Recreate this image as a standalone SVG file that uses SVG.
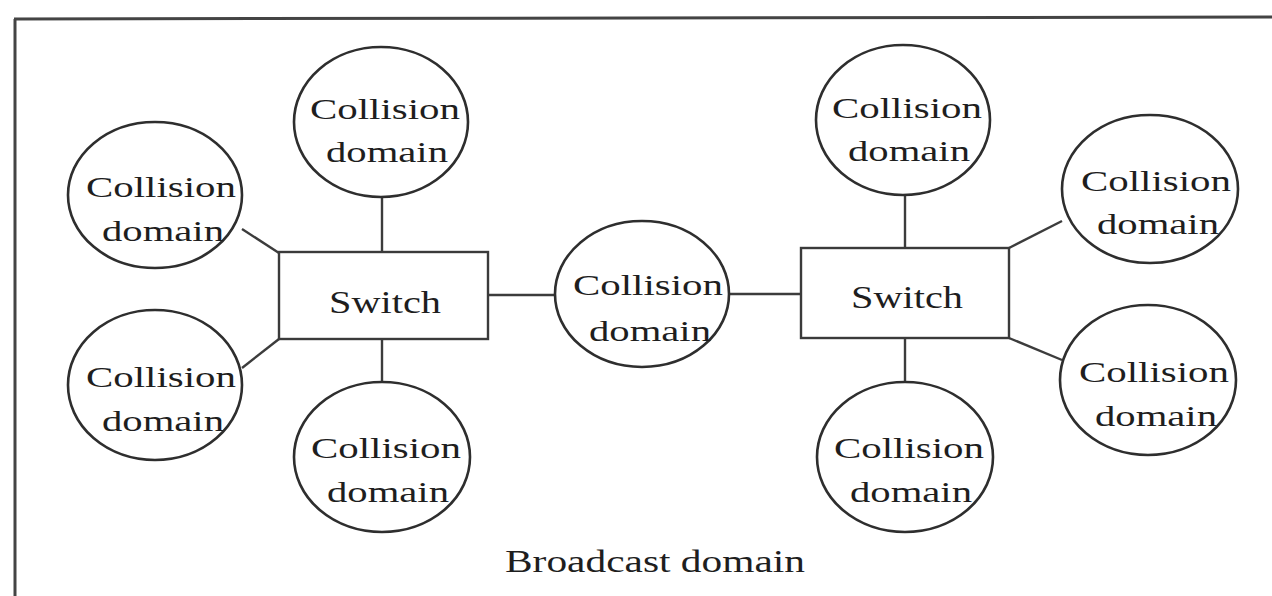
<svg xmlns="http://www.w3.org/2000/svg" width="1272" height="596" viewBox="0 0 1272 596">
  <style>
    .frame { stroke: #444; stroke-width: 3; fill: none; }
    .cd ellipse { fill: #fff; stroke: #2e2e2e; stroke-width: 2.6; }
    .sw rect { fill: #fff; stroke: #3a3a3a; stroke-width: 2.4; }
    .lbl { font-family: "Liberation Serif", "Times New Roman", serif; fill: #1e1e1e; text-anchor: middle; }
    .cdt { font-size: 29px; }
    .swt { font-size: 32px; }
    #links line { stroke: #3c3c3c; stroke-width: 2.4; }
  </style>

  <rect width="1272" height="596" fill="#fff"/>

  <!-- broadcast domain boundary -->
  <g id="boundary">
    <line class="frame" x1="14" y1="19" x2="1272" y2="17" stroke="#777"/>
    <line class="frame" x1="15" y1="19" x2="15" y2="596"/>
  </g>

  <!-- connectors -->
  <g id="links">
    <line x1="242" y1="229" x2="279" y2="253"/>
    <line x1="242" y1="368" x2="279" y2="339"/>
    <line x1="382" y1="197" x2="382" y2="252"/>
    <line x1="382" y1="339" x2="382" y2="383"/>
    <line x1="488" y1="295" x2="556" y2="295"/>
    <line x1="729" y1="294" x2="801" y2="294"/>
    <line x1="905" y1="195" x2="905" y2="248"/>
    <line x1="905" y1="338" x2="905" y2="382"/>
    <line x1="1009" y1="248" x2="1062" y2="221"/>
    <line x1="1009" y1="338" x2="1062" y2="360"/>
  </g>

  <!-- switches -->
  <g id="switch-left" class="sw">
    <rect x="279" y="252" width="209" height="87"/>
    <text class="lbl swt" x="385" y="313" textLength="112" lengthAdjust="spacingAndGlyphs">Switch</text>
  </g>
  <g id="switch-right" class="sw">
    <rect x="801" y="248" width="208" height="90"/>
    <text class="lbl swt" x="907" y="308" textLength="112" lengthAdjust="spacingAndGlyphs">Switch</text>
  </g>

  <!-- collision domains -->
  <g id="cd-left-top" class="cd">
    <ellipse cx="155" cy="195" rx="87" ry="73"/>
    <text class="lbl cdt" x="161" y="197" textLength="150" lengthAdjust="spacingAndGlyphs">Collision</text>
    <text class="lbl cdt" x="163" y="241" textLength="122" lengthAdjust="spacingAndGlyphs">domain</text>
  </g>
  <g id="cd-left-bottom" class="cd">
    <ellipse cx="155" cy="385" rx="87" ry="75"/>
    <text class="lbl cdt" x="161" y="387" textLength="150" lengthAdjust="spacingAndGlyphs">Collision</text>
    <text class="lbl cdt" x="163" y="431" textLength="122" lengthAdjust="spacingAndGlyphs">domain</text>
  </g>
  <g id="cd-top-left" class="cd">
    <ellipse cx="381" cy="122" rx="87" ry="75"/>
    <text class="lbl cdt" x="385" y="119" textLength="150" lengthAdjust="spacingAndGlyphs">Collision</text>
    <text class="lbl cdt" x="387" y="162" textLength="122" lengthAdjust="spacingAndGlyphs">domain</text>
  </g>
  <g id="cd-bottom-left" class="cd">
    <ellipse cx="382" cy="457" rx="88" ry="75"/>
    <text class="lbl cdt" x="386" y="458" textLength="150" lengthAdjust="spacingAndGlyphs">Collision</text>
    <text class="lbl cdt" x="388" y="502" textLength="122" lengthAdjust="spacingAndGlyphs">domain</text>
  </g>
  <g id="cd-center" class="cd">
    <ellipse cx="642" cy="294" rx="87" ry="73"/>
    <text class="lbl cdt" x="648" y="295" textLength="150" lengthAdjust="spacingAndGlyphs">Collision</text>
    <text class="lbl cdt" x="650" y="341" textLength="122" lengthAdjust="spacingAndGlyphs">domain</text>
  </g>
  <g id="cd-top-right" class="cd">
    <ellipse cx="903" cy="120" rx="87" ry="75"/>
    <text class="lbl cdt" x="907" y="118" textLength="150" lengthAdjust="spacingAndGlyphs">Collision</text>
    <text class="lbl cdt" x="909" y="161" textLength="122" lengthAdjust="spacingAndGlyphs">domain</text>
  </g>
  <g id="cd-bottom-right" class="cd">
    <ellipse cx="905" cy="457" rx="88" ry="75"/>
    <text class="lbl cdt" x="909" y="458" textLength="150" lengthAdjust="spacingAndGlyphs">Collision</text>
    <text class="lbl cdt" x="911" y="502" textLength="122" lengthAdjust="spacingAndGlyphs">domain</text>
  </g>
  <g id="cd-right-top" class="cd">
    <ellipse cx="1150" cy="189" rx="88" ry="74"/>
    <text class="lbl cdt" x="1156" y="191" textLength="150" lengthAdjust="spacingAndGlyphs">Collision</text>
    <text class="lbl cdt" x="1158" y="234" textLength="122" lengthAdjust="spacingAndGlyphs">domain</text>
  </g>
  <g id="cd-right-bottom" class="cd">
    <ellipse cx="1148" cy="380" rx="88" ry="75"/>
    <text class="lbl cdt" x="1154" y="382" textLength="150" lengthAdjust="spacingAndGlyphs">Collision</text>
    <text class="lbl cdt" x="1156" y="426" textLength="122" lengthAdjust="spacingAndGlyphs">domain</text>
  </g>

  <text id="broadcast-label" class="lbl swt" x="655" y="572" textLength="300" lengthAdjust="spacingAndGlyphs">Broadcast domain</text>
</svg>
